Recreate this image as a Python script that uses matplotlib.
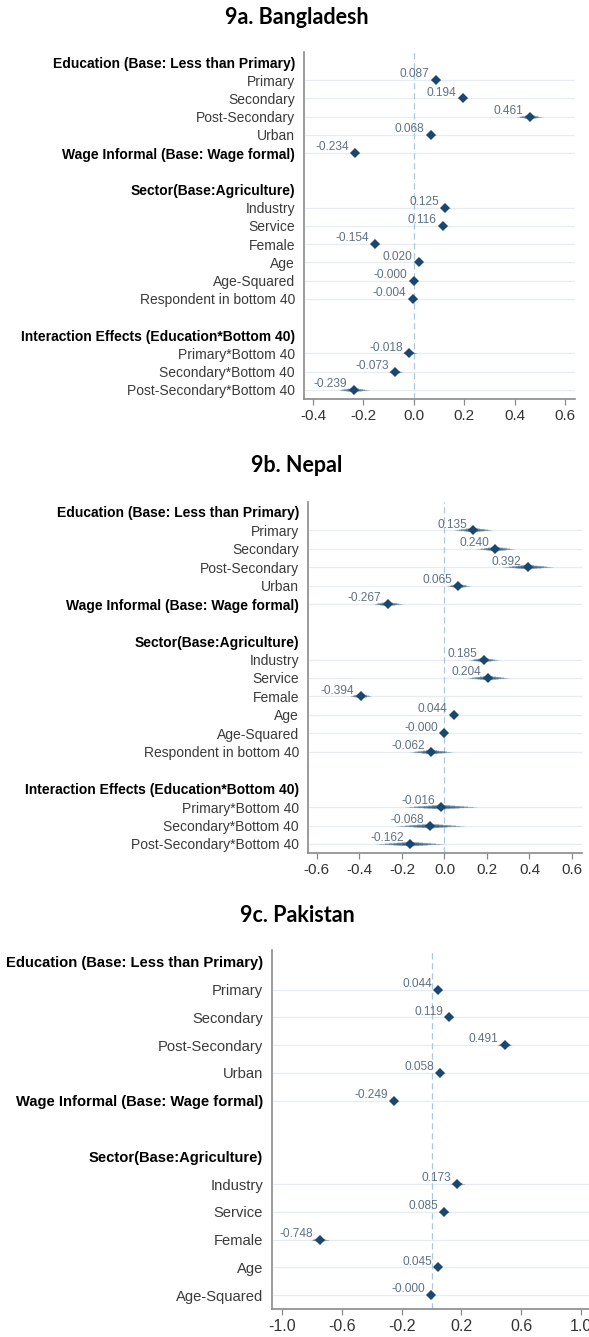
import matplotlib
matplotlib.use("Agg")
import matplotlib.pyplot as plt
import numpy as np

W, H = 589, 1337
NAVY = "#1a476f"

# ── Data ─────────────────────────────────────────────────────────────────────
labels_long = [
    "Education (Base: Less than Primary)", "Primary", "Secondary", "Post-Secondary",
    "Urban", "Wage Informal (Base: Wage formal)", "", "Sector(Base:Agriculture)",
    "Industry", "Service", "Female", "Age", "Age-Squared", "Respondent in bottom 40",
    "", "Interaction Effects (Education*Bottom 40)", "Primary*Bottom 40",
    "Secondary*Bottom 40", "Post-Secondary*Bottom 40",
]
labels_short = labels_long[:13]
headers = {"Education (Base: Less than Primary)", "Wage Informal (Base: Wage formal)",
           "Sector(Base:Agriculture)", "Interaction Effects (Education*Bottom 40)"}

nan = np.nan
coef_bd = [nan, 0.087, 0.194, 0.461, 0.068, -0.234, nan, nan, 0.125, 0.116,
           -0.154, 0.020, -0.0004, -0.004, nan, nan, -0.018, -0.073, -0.239]
ci_bd = [nan, 0.02, 0.02, 0.05, 0.02, 0.02, nan, nan, 0.02, 0.02,
         0.02, 0.01, 0.001, 0.02, nan, nan, 0.03, 0.03, 0.06]

coef_np = [nan, 0.135, 0.240, 0.392, 0.065, -0.267, nan, nan, 0.185, 0.204,
           -0.394, 0.044, -0.0004, -0.062, nan, nan, -0.016, -0.068, -0.162]
ci_np = [nan, 0.09, 0.09, 0.12, 0.055, 0.07, nan, nan, 0.07, 0.10,
         0.05, 0.01, 0.001, 0.10, nan, nan, 0.17, 0.16, 0.16]

coef_pk = [nan, 0.044, 0.119, 0.491, 0.058, -0.249, nan, nan, 0.173, 0.085,
           -0.748, 0.045, -0.0004]
ci_pk = [nan, 0.03, 0.03, 0.05, 0.03, 0.03, nan, nan, 0.05, 0.04,
         0.06, 0.02, 0.001]

xticks_bd = [-0.4, -0.2, 0.0, 0.2, 0.4, 0.6]
xticks_np = [-0.6, -0.4, -0.2, 0.0, 0.2, 0.4, 0.6]
xticks_pk = [-1.0, -0.6, -0.2, 0.2, 0.6, 1.0]


def rect(l, r, t, b):
    return [l / W, 1 - b / H, (r - l) / W, (b - t) / H]


def coef_panel(ax, labels, coefs, cis, xlim, ylim, xticks, lab_fs, tick_fs):
    rows = np.arange(len(labels))
    coefs = np.array(coefs, dtype=float)
    cis = np.array(cis, dtype=float)
    have = ~np.isnan(coefs)

    ax.hlines(rows[have], xlim[0], xlim[1], color="#e6ecf1", lw=0.9, zorder=0)
    ax.axvline(0, color="#a9c9e2", lw=0.9, ls=(0, (5, 3)), zorder=1)

    # smooth CI: stacked segments, thick near the estimate, thin at the ends
    n = 8
    for y, b, hw in zip(rows[have], coefs[have], cis[have]):
        for j in range(1, n + 1):
            f = j / n
            ax.plot([b - hw * f, b + hw * f], [y, y], color=NAVY,
                    lw=3.4 * (1 - f) + 0.4, alpha=0.24, solid_capstyle="butt",
                    zorder=2)

    ax.plot(coefs[have], rows[have], "D", color=NAVY, ms=5.4, mew=0, zorder=3)
    for y, b in zip(rows[have], coefs[have]):
        ax.annotate(f"{b:.3f}", (b, y), xytext=(-4.5, 2), textcoords="offset points",
                    ha="right", va="baseline", fontsize=8.6, color="#5f7186",
                    family="Liberation Sans", zorder=4)

    ax.set_xlim(*xlim)
    ax.set_ylim(*ylim)
    ax.set_yticks(rows)
    ax.set_yticklabels(labels, family="Liberation Sans", fontsize=lab_fs)
    for t in ax.get_yticklabels():
        if t.get_text() in headers:
            t.set_fontweight("bold")
            t.set_color("black")
        else:
            t.set_color("#3a3a3a")
    ax.tick_params(axis="y", length=0, pad=6.5)

    ax.set_xticks(xticks)
    ax.set_xticklabels([f"{v:.1f}" for v in xticks], family="Liberation Sans",
                       fontsize=tick_fs, color="#333333")
    ax.tick_params(axis="x", length=4, width=0.9, color="#8a8a8a", pad=3)

    for s in ["top", "right"]:
        ax.spines[s].set_visible(False)
    for s in ["left", "bottom"]:
        ax.spines[s].set_color("#8a8a8a")
        ax.spines[s].set_linewidth(1.2)


fig = plt.figure(figsize=(W / 100, H / 100), dpi=100)

title_kw = dict(ha="center", va="center", fontsize=15.5, fontweight="bold",
                family="Lato", color="black")

# ── 9a. Bangladesh ───────────────────────────────────────────────────────────
fig.text(297 / W, 1 - 17 / H, "9a. Bangladesh", **title_kw)
ax1 = fig.add_axes(rect(304, 575, 52, 399))
coef_panel(ax1, labels_long, coef_bd, ci_bd, (-0.436, 0.64), (18.5, -0.55),
           xticks_bd, 10, 11)

# ── 9b. Nepal ────────────────────────────────────────────────────────────────
fig.text(297 / W, 1 - 465 / H, "9b. Nepal", **title_kw)
ax2 = fig.add_axes(rect(308, 582, 502, 853))
coef_panel(ax2, labels_long, coef_np, ci_np, (-0.642, 0.647), (18.49, -0.54),
           xticks_np, 10, 11)

# ── 9c. Pakistan ─────────────────────────────────────────────────────────────
fig.text(297 / W, 1 - 915 / H, "9c. Pakistan", **title_kw)
ax3 = fig.add_axes(rect(272, 591, 950, 1309))
coef_panel(ax3, labels_short, coef_pk, ci_pk, (-1.067, 1.067), (12.5, -0.43),
           xticks_pk, 10.6, 11.5)

fig.savefig("out.png", dpi=100)
